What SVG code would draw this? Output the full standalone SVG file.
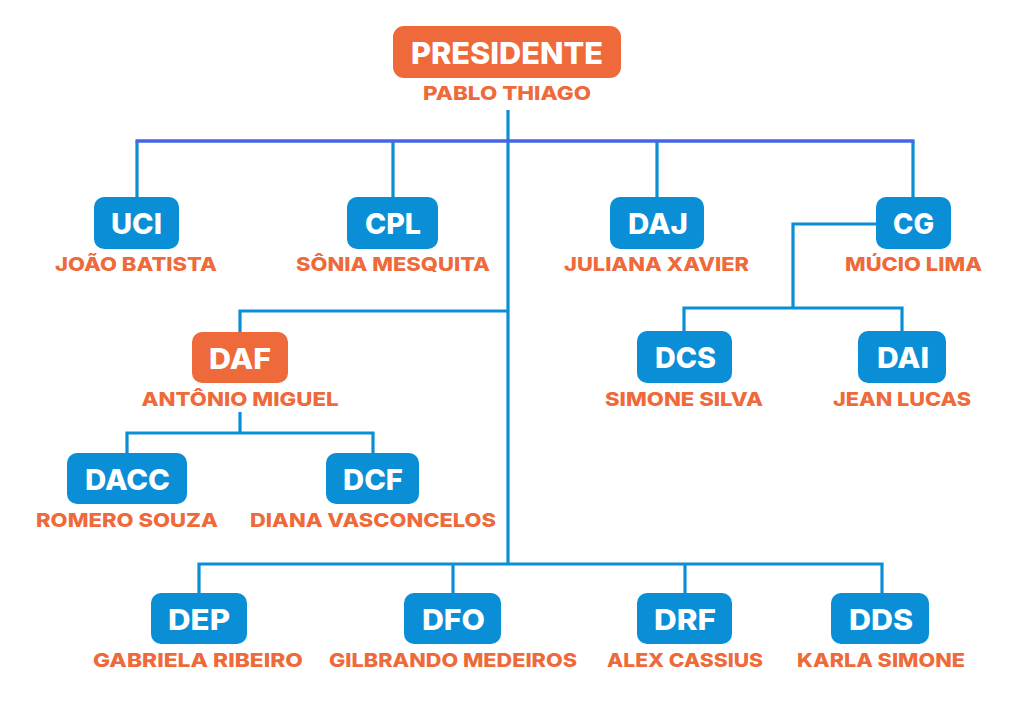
<svg xmlns="http://www.w3.org/2000/svg" width="1029" height="705" viewBox="0 0 1029 705">
<style>
.bg{fill:#ffffff}
.line{fill:none;stroke:#0a8fd6;stroke-width:3.2;stroke-linejoin:miter}
.bus{fill:none;stroke:#4566e3;stroke-width:3.6}
.box{fill:#0a8fd6}
.obox{fill:#ee6a3a}
.lbl{font-family:Inter,"Open Sans","Liberation Sans",sans-serif;font-weight:800;font-size:29px;fill:#ffffff;text-anchor:middle}
.big{font-size:30px}
.nm{font-family:Inter,"Open Sans","Liberation Sans",sans-serif;font-weight:800;font-size:19px;fill:#ee6a3a;text-anchor:middle}
</style>
<rect class="bg" x="0" y="0" width="1029" height="705"/>
<g id="connectors">
<path class="line" d="M508 110 V565"/>
<path class="line" d="M137 197 V141"/>
<path class="line" d="M393 197 V141"/>
<path class="line" d="M657 197 V141"/>
<path class="line" d="M913 197 V141"/>
<path class="bus" d="M135.5 141 H914.5"/>
<path class="line" d="M876 224 H793 V308"/>
<path class="line" d="M684 331 V308 H902 V331"/>
<path class="line" d="M509 311 H240 V332"/>
<path class="line" d="M240 412 V433"/>
<path class="line" d="M127 453 V433 H373 V453"/>
<path class="line" d="M199 593 V564 H882 V593"/>
<path class="line" d="M453 564 V593"/>
<path class="line" d="M685 564 V593"/>
</g>
<g id="presidente">
<rect class="obox" x="393" y="26" width="228" height="52" rx="11"/>
<text class="lbl big" x="507" y="64" textLength="192" lengthAdjust="spacingAndGlyphs">PRESIDENTE</text>
<text class="nm" x="507" y="100" textLength="168" lengthAdjust="spacingAndGlyphs">PABLO THIAGO</text>
</g>
<g id="uci">
<rect class="box" x="94" y="197" width="85" height="52" rx="10"/>
<text class="lbl" x="136.5" y="234" textLength="51" lengthAdjust="spacingAndGlyphs">UCI</text>
<text class="nm" x="136" y="271" textLength="162" lengthAdjust="spacingAndGlyphs">JOÃO BATISTA</text>
</g>
<g id="cpl">
<rect class="box" x="347" y="197" width="91" height="52" rx="10"/>
<text class="lbl" x="393" y="234" textLength="56" lengthAdjust="spacingAndGlyphs">CPL</text>
<text class="nm" x="393" y="271" textLength="194" lengthAdjust="spacingAndGlyphs">SÔNIA MESQUITA</text>
</g>
<g id="daj">
<rect class="box" x="610" y="197" width="94" height="52" rx="10"/>
<text class="lbl" x="658" y="234" textLength="60" lengthAdjust="spacingAndGlyphs">DAJ</text>
<text class="nm" x="656.5" y="271" textLength="185" lengthAdjust="spacingAndGlyphs">JULIANA XAVIER</text>
</g>
<g id="cg">
<rect class="box" x="876" y="197" width="75" height="52" rx="10"/>
<text class="lbl" x="913.5" y="234" textLength="41" lengthAdjust="spacingAndGlyphs">CG</text>
<text class="nm" x="913.5" y="271" textLength="137" lengthAdjust="spacingAndGlyphs">MÚCIO LIMA</text>
</g>
<g id="dcs">
<rect class="box" x="637" y="331" width="95" height="52" rx="10"/>
<text class="lbl" x="685.5" y="368" textLength="61" lengthAdjust="spacingAndGlyphs">DCS</text>
<text class="nm" x="684" y="406" textLength="158" lengthAdjust="spacingAndGlyphs">SIMONE SILVA</text>
</g>
<g id="dai">
<rect class="box" x="858" y="331" width="88" height="52" rx="10"/>
<text class="lbl" x="903" y="368" textLength="52" lengthAdjust="spacingAndGlyphs">DAI</text>
<text class="nm" x="902" y="406" textLength="138" lengthAdjust="spacingAndGlyphs">JEAN LUCAS</text>
</g>
<g id="daf">
<rect class="obox" x="192" y="332" width="96" height="51" rx="10"/>
<text class="lbl" x="240" y="369" textLength="62" lengthAdjust="spacingAndGlyphs">DAF</text>
<text class="nm" x="240" y="406" textLength="197" lengthAdjust="spacingAndGlyphs">ANTÔNIO MIGUEL</text>
</g>
<g id="dacc">
<rect class="box" x="67" y="453" width="120" height="51" rx="10"/>
<text class="lbl" x="127.5" y="490" textLength="85" lengthAdjust="spacingAndGlyphs">DACC</text>
<text class="nm" x="127" y="527" textLength="182" lengthAdjust="spacingAndGlyphs">ROMERO SOUZA</text>
</g>
<g id="dcf">
<rect class="box" x="326" y="453" width="93" height="51" rx="10"/>
<text class="lbl" x="373" y="490" textLength="60" lengthAdjust="spacingAndGlyphs">DCF</text>
<text class="nm" x="373" y="527" textLength="246" lengthAdjust="spacingAndGlyphs">DIANA VASCONCELOS</text>
</g>
<g id="dep">
<rect class="box" x="151" y="593" width="96" height="51" rx="10"/>
<text class="lbl" x="199" y="630" textLength="62" lengthAdjust="spacingAndGlyphs">DEP</text>
<text class="nm" x="198" y="667" textLength="210" lengthAdjust="spacingAndGlyphs">GABRIELA RIBEIRO</text>
</g>
<g id="dfo">
<rect class="box" x="404" y="593" width="97" height="51" rx="10"/>
<text class="lbl" x="453.5" y="630" textLength="63" lengthAdjust="spacingAndGlyphs">DFO</text>
<text class="nm" x="453" y="667" textLength="248" lengthAdjust="spacingAndGlyphs">GILBRANDO MEDEIROS</text>
</g>
<g id="drf">
<rect class="box" x="637" y="593" width="95" height="51" rx="10"/>
<text class="lbl" x="685" y="630" textLength="62" lengthAdjust="spacingAndGlyphs">DRF</text>
<text class="nm" x="685" y="667" textLength="156" lengthAdjust="spacingAndGlyphs">ALEX CASSIUS</text>
</g>
<g id="dds">
<rect class="box" x="831" y="593" width="98" height="51" rx="10"/>
<text class="lbl" x="881" y="630" textLength="64" lengthAdjust="spacingAndGlyphs">DDS</text>
<text class="nm" x="881" y="667" textLength="168" lengthAdjust="spacingAndGlyphs">KARLA SIMONE</text>
</g>
</svg>
